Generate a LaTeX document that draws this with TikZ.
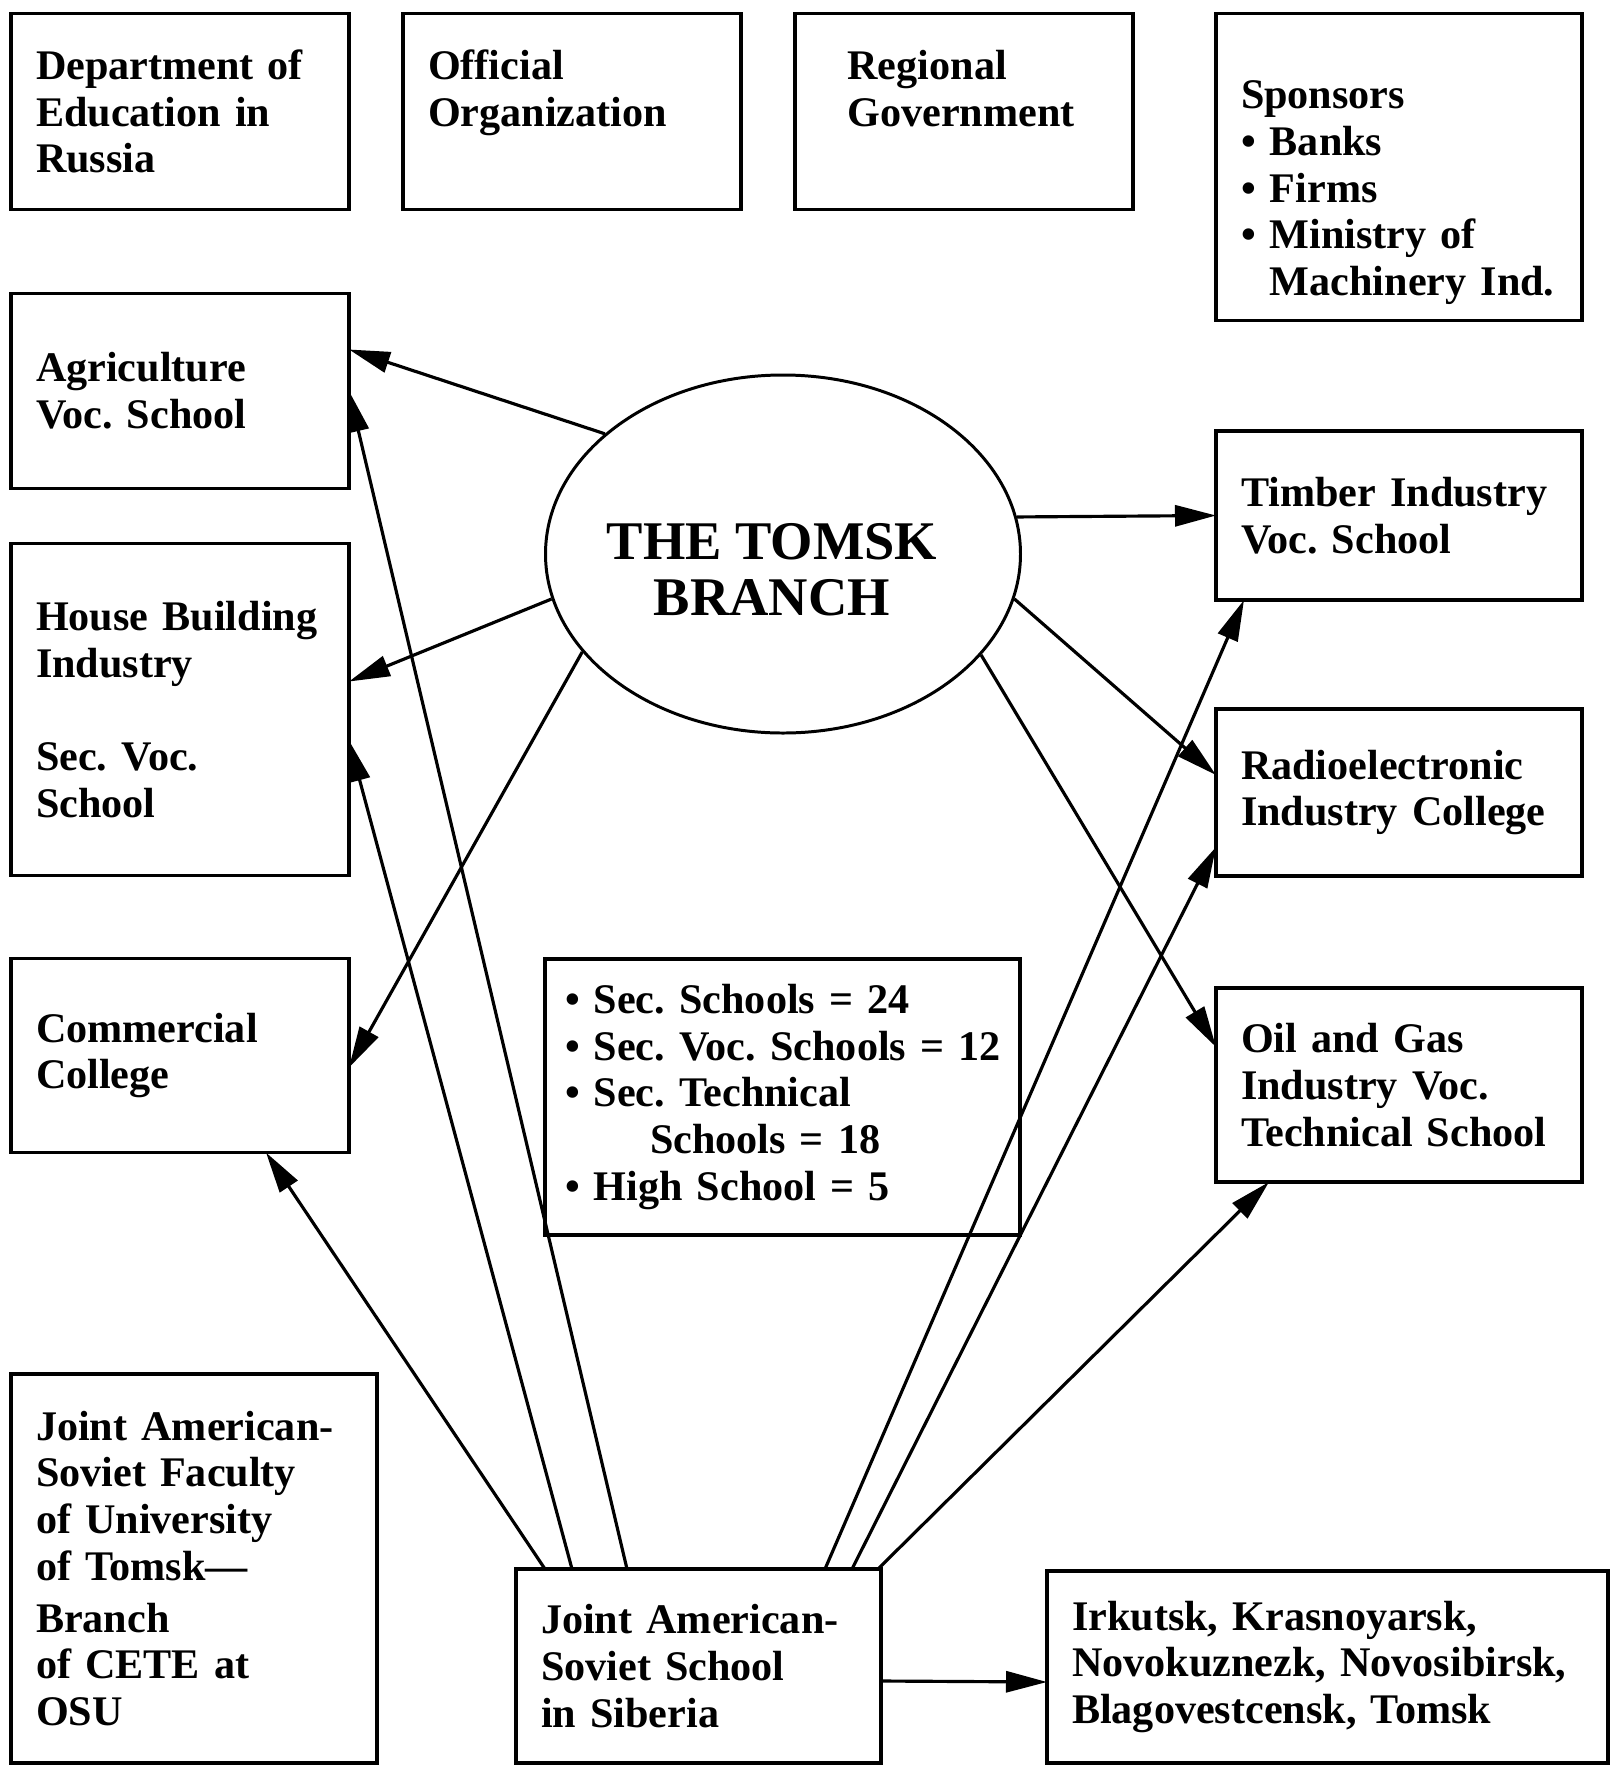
\documentclass[tikz,border=0pt]{standalone}
\usepackage{fontspec}
\setmainfont{Liberation Serif}
\frenchspacing
\usepackage{tikz}
\usetikzlibrary{arrows.meta,positioning,shapes.geometric}

\begin{document}
\begin{tikzpicture}[
    node distance=1.1cm and 1.08cm,
    box/.style={draw, line width=2pt, outer sep=0pt, align=left, inner xsep=0.5cm, inner ysep=0.15cm, font=\bfseries\fontsize{24}{26.6}\selectfont},
    hub/.style={draw, ellipse, line width=1.7pt, minimum width=9.5cm, minimum height=7.16cm, inner sep=0pt},
    hubtext/.style={align=center, inner sep=0pt, font=\bfseries\fontsize{31}{32}\selectfont},
    arr/.style={-{Triangle[length=0.82cm, width=0.42cm]}, line width=1.8pt}
]
\useasboundingbox (0,0) rectangle (32.34,-35.32);

% top row
\node[box, text width=5.76cm, minimum height=3.92cm] (dept) at (3.6,-2.23) {Department of\\Education in\\Russia};
\node[box, text width=5.76cm, minimum height=3.92cm, right=1.08cm of dept] (official) {Official\\Organization\\\mbox{}};
\node[box, text width=5.76cm, minimum height=3.92cm, right=1.08cm of official] (regional) {\hspace*{0.55cm}Regional\\\hspace*{0.55cm}Government\\\mbox{}};
\node[box, text width=6.32cm, minimum height=6.14cm] (sponsors) at (27.98,-3.34) {\strut\\Sponsors\\• Banks\\• Firms\\• Ministry of\\\phantom{• }Machinery Ind.};

% left column
\node[box, text width=5.76cm, minimum height=3.9cm, below=1.68cm of dept] (agri) {Agriculture\\Voc. School};
\node[box, text width=5.76cm, minimum height=6.64cm, below=1.1cm of agri] (house) {House Building\\Industry\\[26.6pt]Sec. Voc.\\School};
\node[box, text width=5.76cm, minimum height=3.88cm, below=1.66cm of house] (commercial) {Commercial\\College};

% centre
\node[hub] (tomsk) at (15.66,-11.08) {};
\node[hubtext] (tomsklabel) at ([xshift=-0.22cm, yshift=-0.32cm]tomsk.center) {THE TOMSK\\BRANCH};
\node[box, text width=8.7cm, inner xsep=0.4cm, minimum height=5.52cm] (stats) at (15.65,-21.94) {• Sec. Schools = 24\\\mbox{• Sec. Voc. Schools = 12}\\• Sec. Technical\\\hspace*{1.7cm}Schools = 18\\• High School = 5};

% right column
\node[box, text width=6.32cm, minimum height=3.38cm] (timber) at (27.98,-10.31) {Timber Industry\\Voc. School};
\node[box, text width=6.32cm, minimum height=3.34cm, below=2.18cm of timber] (radio) {Radioelectronic\\Industry College};
\node[box, text width=6.32cm, minimum height=3.88cm, below=2.24cm of radio] (oil) {Oil and Gas\\Industry Voc.\\Technical School};

% bottom row
\node[box, text width=6.32cm, minimum height=7.78cm] (faculty) at (3.88,-31.37) {Joint American-\\Soviet Faculty\\of University\\of Tomsk---\\[0.1cm]Branch\\of CETE at\\OSU};
\node[box, text width=6.3cm, minimum height=3.88cm] (school) at (13.97,-33.32) {Joint American-\\Soviet School\\in Siberia};
\node[box, text width=10.22cm, minimum height=3.84cm] (irkutsk) at (26.55,-33.34) {Irkutsk, Krasnoyarsk,\\Novokuznezk, Novosibirsk,\\Blagovestcensk, Tomsk};

% from the branch
\draw[arr] (tomsk.146) -- ([yshift=0.83cm]agri.east);
\draw[arr] (tomsk.191) -- ([yshift=0.56cm]house.east);
\draw[arr] (tomsk.206) -- ([yshift=-0.24cm]commercial.east);
\draw[arr] (tomsk.9) -- (timber.west);
\draw[arr] (tomsk.349) -- ([yshift=0.35cm]radio.west);
\draw[arr] (tomsk.333) -- ([yshift=0.76cm]oil.west);

% from the school
\draw[arr] ([xshift=-3.07cm]school.north) -- ([xshift=1.72cm]commercial.south);
\draw[arr] ([xshift=-2.53cm]school.north) -- ([yshift=-0.62cm]house.east);
\draw[arr] ([xshift=-1.43cm]school.north) -- (agri.east);
\draw[arr] ([xshift=2.53cm]school.north) -- ([xshift=-3.1cm]timber.south);
\draw[arr] ([xshift=3.07cm]school.north) -- ([yshift=-1.09cm]radio.west);
\draw[arr] ([xshift=3.59cm]school.north) -- ([xshift=-2.6cm]oil.south);
\draw[arr] ([yshift=-0.3cm]school.east) -- ([yshift=-0.3cm]irkutsk.west);
\end{tikzpicture}
\end{document}
